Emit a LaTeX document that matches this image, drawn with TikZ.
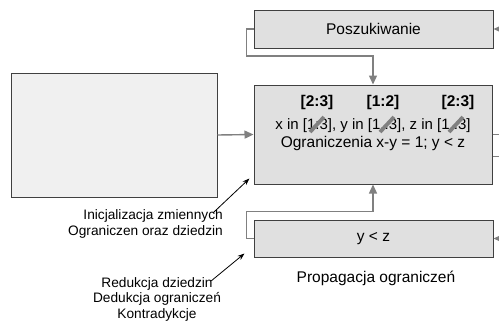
\documentclass[tikz,border=0pt]{standalone}
\usepackage{fontspec}
\setmainfont{Liberation Sans}
\usepackage{tikz}
\usetikzlibrary{arrows.meta}
\definecolor{boxfill}{HTML}{E0E0E0}
\definecolor{initfill}{HTML}{F0F0F0}
\definecolor{boxline}{HTML}{404040}
\definecolor{edgegray}{HTML}{808080}

\begin{document}
\begin{tikzpicture}[x=1pt,y=-1pt]
    \newcommand{\loopgap}{7}
    \tikzstyle{gedge} = [line width=1.4pt,->,>={Triangle[length=9pt,width=8pt]},draw=edgegray]
    \tikzstyle{bedge} = [line width=0.8pt,->,>={Stealth[length=7pt,width=5pt]},draw=black]
    \tikzstyle{box}=[
      rectangle,
      draw=boxline,
      fill=boxfill,
      anchor=center,
      line width=1pt,
      inner sep=0pt,
      align=center,
      font=\fontsize{15.5}{18}\selectfont,
    ]
    \tikzstyle{note}=[inner sep=0pt,font=\fontsize{13.7}{16}\selectfont]
    \tikzstyle{bound}=[inner sep=0pt,font=\fontsize{15.5}{18}\selectfont\bfseries]
    \tikzstyle{slash}=[line width=3.8pt,draw=edgegray]

    \useasboundingbox (0,0) rectangle (499,322);

    \node[box,fill=initfill,minimum width=206,minimum height=124] (nInit) at (114,135) {};
    \node[box,minimum width=238,minimum height=99] (nMain) at (373,134.5)
      {{\fontsize{15}{18}\selectfont x in [1:3], y in [1..3], z in [1..3]}\\Ograniczenia x-y = 1; y < z};
    \node[box,minimum width=239,minimum height=38] (nSearch) at (373.5,29) {Poszukiwanie};
    \node[box,minimum width=239,minimum height=37] (nProp) at (373.5,238.5) {y < z};

    \node[bound] (nBoundX) at (317,102) {[2:3]};
    \node[bound] (nBoundY) at (383,102) {[1:2]};
    \node[bound] (nBoundZ) at (458,102) {[2:3]};

    % crossed-out old bounds
    \draw[slash] (310,132)--(324,117);
    \draw[slash] (380,132)--(394,117);
    \draw[slash] (449,132)--(463,117);

    \node[note,align=right,anchor=east] (nNoteInit) at (223,223.5)
      {Inicjalizacja zmiennych\\Ograniczen oraz dziedzin};
    \node[note,align=center,font=\fontsize{13.7}{15.5}\selectfont] (nNoteRed) at (157,299)
      {Redukcja dziedzin\\Dedukcja ograniczeń\\Kontradykcje};
    \node[inner sep=0pt,font=\fontsize{15.5}{18}\selectfont] (nPropLabel) at (376,278)
      {Propagacja ograniczeń};

    \draw[gedge] (nInit.east)--(nMain.west);
    \draw[gedge] (nSearch.west) -| ++(-\loopgap,27) -| (nMain.north);
    \draw[gedge] (nProp.west) -| ++(-\loopgap,-27) -| (nMain.south);
    \draw[gedge] (nMain.east) -- ++(20,0) |- (nSearch.east);
    \draw[gedge] ([yshift=-22pt]nMain.east) -- ++(20,0) |- (nProp.east);

    \draw[bedge] ([shift={(-10,4)}]nNoteInit.north east)--([shift={(-4,-6)}]nMain.south west);
    \draw[bedge] ([shift={(-10,4)}]nNoteRed.north east)--([shift={(-9,-4)}]nProp.south west);
  \end{tikzpicture}
\end{document}
